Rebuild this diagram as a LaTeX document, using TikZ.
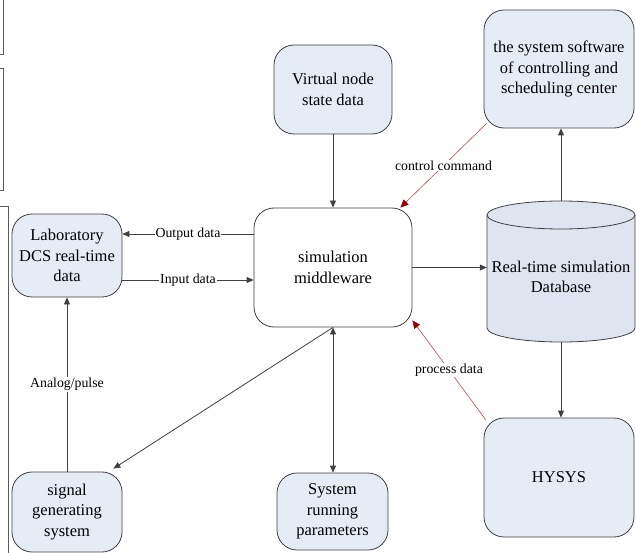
\documentclass[tikz,border=0pt]{standalone}
\usepackage{fontspec}
\setmainfont{Liberation Serif}
\newfontfamily\diagserif{Liberation Serif}
\usetikzlibrary{arrows.meta}
\definecolor{boxfill}{RGB}{230,236,246}
\definecolor{dbfill}{RGB}{222,228,240}
\definecolor{edgegray}{RGB}{64,64,64}
\definecolor{redline}{RGB}{190,75,72}
\definecolor{redhead}{RGB}{150,0,0}
\definecolor{framegray}{RGB}{90,90,90}
\begin{document}
\begin{tikzpicture}[x=1pt,y=-1pt,
 box/.style={draw=edgegray, line width=0.8pt, fill=boxfill, rounded corners=20pt, align=center, inner sep=0pt, font=\diagserif\fontsize{16.5}{20.5}\selectfont},
 arr/.style={draw=edgegray, line width=0.8pt, -{Triangle[length=7pt,width=6pt]}},
 dblarr/.style={draw=edgegray, line width=0.8pt, {Triangle[length=7pt,width=6pt]}-{Triangle[length=7pt,width=6pt]}},
 redarr/.style={draw=redline, line width=0.6pt, -{Triangle[length=8pt,width=7pt,color=redhead]}},
 lbl/.style={fill=white, inner sep=1pt, font=\diagserif\fontsize{13.8}{16}\selectfont, text=black},
 frame/.style={draw=framegray, line width=0.8pt}]
\useasboundingbox (0,0) rectangle (636,553);

% left frame fragments
\draw[frame] (0,54) -- (3,54) -- (3,0);
\draw[frame] (0,68) -- (3,68) -- (3,190) -- (0,190);
\draw[frame] (0,206) -- (8,206) -- (8,553);

% nodes
\node[box, minimum width=110pt, minimum height=83pt] (lab) at (67,255.5) {Laboratory\\DCS real-time\\data};
\node[box, minimum width=118pt, minimum height=89pt] (virt) at (333,89.5) {Virtual node\\state data};
\node[box, minimum width=150pt, minimum height=118pt] (soft) at (559,69) {the system software\\of controlling and\\scheduling center};
\node[box, fill=white, minimum width=158pt, minimum height=119pt] (mid) at (333,267.5) {simulation\\middleware};
\node[box, minimum width=150pt, minimum height=119pt] (hysys) at (559,477.5) {HYSYS};
\node[box, minimum width=110pt, minimum height=80pt] (sig) at (67,512) {signal\\generating\\system};
\node[box, minimum width=111pt, minimum height=77pt] (par) at (332.5,511.5) {System\\running\\parameters};

% database cylinder
\filldraw[draw=edgegray, line width=0.8pt, fill=dbfill]
  (487,215) -- (487,328) arc[start angle=180, end angle=0, x radius=74, y radius=14]
  -- (635,215) arc[start angle=0, end angle=-180, x radius=74, y radius=14] -- cycle;
\draw[edgegray, line width=0.8pt] (487,215) arc[start angle=180, end angle=0, x radius=74, y radius=14];
\node[minimum width=148pt, minimum height=141pt, inner sep=0pt] (db) at (561,271.5) {};
\node[align=center, inner sep=0pt, font=\diagserif\fontsize{16.5}{20.5}\selectfont] (dbtext) at (561,277) {Real-time simulation\\Database};

% helper coordinates
\path ([yshift=21.5pt]lab.east) coordinate (o1);
\path ([yshift=-24.5pt]lab.east) coordinate (i1);

% connectors
\draw[arr] (virt) -- (mid);
\draw[arr] (o1 -| mid.west) -- (o1) node[lbl, midway] {Output data};
\draw[arr] (i1) -- (i1 -| mid.west) node[lbl, midway] {Input data};
\draw[arr] (mid.east) -- (mid.east -| db.west);
\draw[arr] (db.north) -- (db.north |- soft.south);
\draw[arr] (db.south) -- (db.south |- hysys.north);
\draw[redarr] ([xshift=3pt,yshift=5pt]soft.south west) -- ([xshift=-12pt]mid.north east) node[lbl, pos=0.5] {control command};
\draw[redarr] ([xshift=2pt,yshift=-2pt]hysys.north west) -- ([yshift=7pt]mid.south east) node[lbl, pos=0.5] {process data};
\draw[arr] (mid.south) -- ([xshift=-9pt,yshift=3pt]sig.north east);
\draw[dblarr] (mid.south) -- (mid.south |- par.north);
\draw[arr] (sig.north) -- (lab.south) node[lbl, midway] {Analog/pulse};
\end{tikzpicture}
\end{document}
